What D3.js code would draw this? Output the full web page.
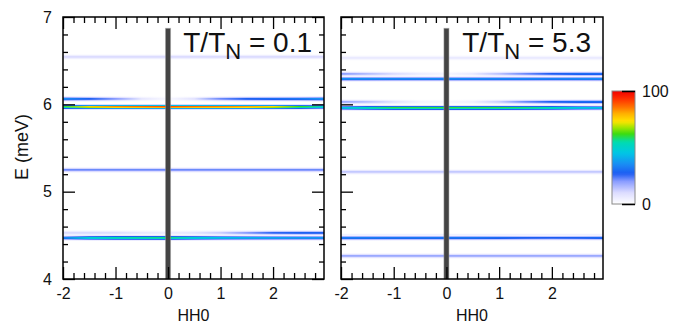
<!DOCTYPE html>
<html>
<head>
<meta charset="utf-8">
<script src="https://cdn.jsdelivr.net/npm/d3@7"></script>
<style>
  body { margin: 0; background: #fff; }
  svg text { font-family: Arial, "Liberation Sans", sans-serif; fill: #111; }
</style>
</head>
<body>
<svg id="chart" width="682" height="323"></svg>
<script>
const hSamples = [-2, -1.5, -1, -0.5, 0, 0.5, 1, 1.5, 2, 2.5, 2.97];

// T/TN = 0.1
const lowTEnergies = [6.545, 6.06, 5.965, 5.247, 4.528, 4.468];
const lowTIntensity = [
  [10, 10, 10, 10, 10, 10, 10, 10, 10, 10, 10],
  [36, 28, 20, 7, 2, 8, 22, 28, 30, 32, 37],
  [60, 76, 84, 87, 90, 87, 85, 82, 75, 62, 49],
  [22, 22, 22, 22, 22, 22, 22, 22, 22, 22, 22],
  [10, 10, 9, 6, 5, 7, 12, 20, 26, 28, 28],
  [33, 50, 55, 56, 57, 50, 45, 42, 40, 38, 37]
];

// T/TN = 5.3
const highTEnergies = [6.527, 6.344, 6.286, 6.03, 5.962, 5.228, 4.492, 4.465, 4.262];
const highTIntensity = [
  [6, 6, 6, 6, 6, 6, 6, 6, 6, 6, 6],
  [20, 15, 10, 5, 3, 6, 14, 22, 27, 30, 30],
  [36, 36, 35, 35, 35, 35, 35, 35, 34, 35, 36],
  [18, 14, 8, 3, 2, 4, 12, 22, 27, 30, 30],
  [45, 55, 60, 60, 60, 60, 60, 58, 55, 47, 44],
  [13, 13, 13, 13, 13, 13, 13, 13, 13, 13, 13],
  [8, 8, 8, 8, 8, 8, 8, 8, 8, 8, 8],
  [33, 33, 32, 32, 32, 32, 30, 28, 27, 28, 30],
  [18, 18, 18, 18, 18, 18, 18, 18, 18, 18, 18]
];

const panelTemps = ["0.1", "5.3"];
const xTicks = [-2, -1, 0, 1, 2];
const yTicks = [4, 5, 6, 7];
const colorDomain = [0, 100];

const svg = d3.select('#chart');
const plotTop = 17, plotBottom = 279;
const panels = [
  { x0: 63, x1: 324, energies: lowTEnergies, intensity: lowTIntensity, temp: panelTemps[0], yLabels: true, rightTicks: true },
  { x0: 341, x1: 603, energies: highTEnergies, intensity: highTIntensity, temp: panelTemps[1], yLabels: false, rightTicks: false }
];

// white -> lavender -> blue -> cyan -> green -> yellow -> red
const color = d3.scaleLinear()
  .domain([0, 10, 20, 27, 35, 45, 55, 62, 68, 73, 80, 86, 93, 100])
  .range(['#ffffff', '#dcdcff', '#8a9cff', '#1c5cf2', '#1a8cf4', '#00c6e6', '#00dcb0',
          '#3cdc10', '#a6e600', '#ffe400', '#ffb000', '#ff7000', '#ff3000', '#f20000'])
  .clamp(true);

const defs = svg.append('defs');
const y = d3.scaleLinear().domain([4, 7]).range([plotBottom, plotTop]);
const fmt = d => String(d);

// each band is drawn as 1px strips, fading away from its centre
const stripOffsets = [-2, -1, 0, 1, 2, 3];
const stripWeights = [0.12, 0.5, 1, 0.9, 0.45, 0.1];

panels.forEach((p, pi) => {
  const x = d3.scaleLinear().domain([-2, 2.97]).range([p.x0, p.x1]);
  const g = svg.append('g');
  const clipId = 'clip' + pi;
  defs.append('clipPath').attr('id', clipId)
    .append('rect').attr('x', p.x0).attr('y', plotTop).attr('width', p.x1 - p.x0).attr('height', plotBottom - plotTop);

  const bands = g.append('g').attr('clip-path', `url(#${clipId})`).attr('shape-rendering', 'crispEdges');
  p.energies.forEach((e, bi) => {
    const yc = Math.round(y(e)) - 1;
    stripOffsets.forEach((off, si) => {
      const id = `b${pi}_${bi}_${si}`;
      const grad = defs.append('linearGradient').attr('id', id)
        .attr('gradientUnits', 'userSpaceOnUse')
        .attr('x1', p.x0).attr('x2', p.x1).attr('y1', 0).attr('y2', 0);
      grad.selectAll('stop')
        .data(hSamples)
        .join('stop')
        .attr('offset', h => (x(h) - p.x0) / (p.x1 - p.x0))
        .attr('stop-color', (h, i) => color(p.intensity[bi][i] * stripWeights[si]));
      bands.append('rect')
        .attr('x', p.x0).attr('width', p.x1 - p.x0)
        .attr('y', yc + off).attr('height', 1)
        .attr('fill', `url(#${id})`);
    });
  });

  // thick marker at H = 0
  g.append('rect')
    .attr('x', x(0) - 2.5).attr('width', 5)
    .attr('y', y(6.87)).attr('height', y(4) - y(6.87))
    .attr('fill', '#444')
    .attr('stroke', '#999').attr('stroke-opacity', 0.5).attr('stroke-width', 1);

  const xMinor = d3.range(-1.8, 3, 0.2).filter(v => Math.abs(v - Math.round(v)) > 0.01);
  const yMinor = d3.range(4.2, 7, 0.2).filter(v => Math.abs(v - Math.round(v)) > 0.01);

  g.append('g').attr('transform', `translate(0,${plotBottom})`)
    .call(d3.axisBottom(x).tickValues(xTicks).tickSize(-12).tickPadding(9).tickFormat(fmt));
  g.append('g').attr('transform', `translate(0,${plotBottom})`)
    .call(d3.axisBottom(x).tickValues(xMinor).tickSize(-6).tickFormat(''));
  g.append('g').attr('transform', `translate(0,${plotTop})`)
    .call(d3.axisTop(x).tickValues(xTicks.filter(v => v !== 0)).tickSize(-12).tickFormat(''));
  g.append('g').attr('transform', `translate(0,${plotTop})`)
    .call(d3.axisTop(x).tickValues(xMinor.concat([0])).tickSize(-6).tickFormat(''));

  g.append('g').attr('transform', `translate(${p.x0},0)`)
    .call(d3.axisLeft(y).tickValues(yTicks).tickSize(-12).tickPadding(11)
      .tickFormat(p.yLabels ? fmt : ''));
  g.append('g').attr('transform', `translate(${p.x0},0)`)
    .call(d3.axisLeft(y).tickValues(yMinor).tickSize(-5).tickFormat(''));
  if (p.rightTicks) {
    g.append('g').attr('transform', `translate(${p.x1},0)`)
      .call(d3.axisRight(y).tickValues(yTicks).tickSize(-12).tickFormat(''));
    g.append('g').attr('transform', `translate(${p.x1},0)`)
      .call(d3.axisRight(y).tickValues(yMinor).tickSize(-5).tickFormat(''));
  }
  g.selectAll('.domain').remove();
  g.selectAll('.tick line').attr('stroke', '#000').attr('stroke-width', 1.3);
  g.selectAll('.tick text').attr('font-size', 16).attr('fill', '#111')
    .attr('font-family', 'Arial, "Liberation Sans", sans-serif');

  g.append('rect')
    .attr('x', p.x0).attr('y', plotTop).attr('width', p.x1 - p.x0).attr('height', plotBottom - plotTop)
    .attr('fill', 'none').attr('stroke', '#000').attr('stroke-width', 1.5);

  g.append('text')
    .attr('x', (p.x0 + p.x1) / 2).attr('y', 315)
    .attr('text-anchor', 'middle').attr('dominant-baseline', 'central')
    .attr('font-size', 16).text('HH0');

  const t = g.append('text')
    .attr('x', p.x1 - 12).attr('y', 51.7)
    .attr('text-anchor', 'end').attr('font-size', 28);
  t.append('tspan').text('T/T');
  t.append('tspan').attr('font-size', 22).attr('dy', 7.6).text('N');
  t.append('tspan').attr('dy', -7.6).text(' = ' + p.temp);
});

svg.append('text')
  .attr('transform', 'translate(21.5,147) rotate(-90)')
  .attr('text-anchor', 'middle').attr('dominant-baseline', 'central')
  .attr('font-size', 18).text('E (meV)');

// colour bar
const cb = { x: 612, y: 91, w: 23, h: 113 };
const cbScale = d3.scaleLinear().domain(colorDomain).range([cb.y + cb.h, cb.y]);
const cbGrad = defs.append('linearGradient').attr('id', 'cbar')
  .attr('x1', 0).attr('x2', 0).attr('y1', 1).attr('y2', 0);
cbGrad.selectAll('stop')
  .data(d3.range(0, 101, 2))
  .join('stop')
  .attr('offset', d => d / 100)
  .attr('stop-color', d => color(d));
svg.append('rect')
  .attr('x', cb.x).attr('y', cb.y).attr('width', cb.w).attr('height', cb.h)
  .attr('fill', 'url(#cbar)').attr('stroke', '#888').attr('stroke-width', 1);
svg.append('g').attr('transform', `translate(${cb.x + cb.w},0)`)
  .call(d3.axisRight(cbScale).tickValues(colorDomain).tickSize(-13).tickPadding(7).tickFormat(fmt))
  .call(a => a.select('.domain').remove())
  .call(a => a.selectAll('.tick line').attr('stroke', '#000').attr('stroke-width', 1.5))
  .call(a => a.selectAll('.tick text').attr('font-size', 16).attr('fill', '#111')
    .attr('font-family', 'Arial, "Liberation Sans", sans-serif'));
</script>
</body>
</html>
